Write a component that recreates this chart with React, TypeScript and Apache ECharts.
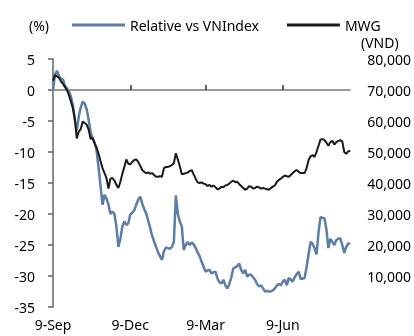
import React, { useEffect, useRef } from "react";
import * as echarts from "echarts";

// x-axis: 151 daily-ish sample points; labelled positions
const tickLabels = ["9-Sep", "9-Dec", "9-Mar", "9-Jun"];
const tickIndex = [0, 39, 77, 116];

// Relative vs VNIndex (%)
const relative = [
  0, 2.5, 3.1, 2.3, 1.8, 1.7, 0.7, 0.3, -0.2, -1.0,
  -2.4, -4.8, -6.5, -4.3, -2.8, -1.9, -2.2, -3.1, -4.8, -6.8,
  -7.8, -8.5, -9.8, -12.5, -15.5, -18.5, -16.9, -17.5, -18.5, -20.0,
  -19.6, -20.0, -22.0, -25.3, -24.0, -22.0, -21.2, -21.8, -21.5, -20.1,
  -19.8, -19.4, -18.5, -17.7, -17.2, -18.3, -19.2, -19.9, -21.0, -22.2,
  -23.5, -24.4, -25.3, -26.2, -26.8, -27.4, -26.0, -25.4, -25.5, -25.6,
  -25.3, -24.5, -17.0, -20.0, -21.2, -22.0, -25.8, -25.0, -24.5, -25.0,
  -24.6, -24.9, -25.5, -26.2, -26.8, -27.7, -28.5, -29.3, -29.1, -29.0,
  -29.6, -29.4, -29.3, -30.4, -31.0, -31.2, -30.6, -31.5, -32.0, -31.3,
  -30.2, -28.8, -28.6, -28.4, -28.0, -29.0, -29.6, -29.0, -30.1, -29.8,
  -29.8, -30.2, -30.6, -31.3, -31.7, -31.5, -32.0, -32.5, -32.4, -32.5,
  -32.5, -32.3, -32.0, -31.5, -31.3, -31.5, -30.9, -30.6, -31.5, -30.3,
  -30.6, -30.9, -30.2, -29.7, -29.3, -30.5, -30.4, -30.3, -28.5, -26.5,
  -24.5, -24.8, -25.5, -26.5, -23.0, -20.5, -20.6, -20.7, -22.5, -25.5,
  -24.0, -24.5, -25.0, -24.2, -24.0, -23.9, -25.0, -26.3, -25.3, -24.8,
  -24.7,
];

// MWG share price (VND)
const mwg = [
  73000, 74800, 74400, 74000, 72800, 72000, 71000, 70000, 68400, 66400,
  64200, 60800, 54400, 56600, 57400, 59800, 59400, 58800, 57200, 54200,
  54600, 52800, 51400, 49400, 47000, 44800, 43200, 41600, 38200, 41400,
  41600, 40800, 39400, 38400, 40400, 43000, 45200, 47600, 46200, 46000,
  46800, 47400, 47600, 46800, 45600, 44200, 43600, 43200, 43400, 43000,
  43200, 42600, 42000, 42000, 42200, 42000, 44800, 45200, 45200, 45400,
  45800, 46400, 49600, 47600, 45400, 42800, 43000, 43200, 43400, 43800,
  44200, 42800, 41400, 40200, 40000, 40200, 39800, 39600, 39000, 39400,
  38800, 39200, 38600, 38000, 38200, 38800, 38600, 39200, 39400, 39800,
  40400, 40800, 40200, 40400, 39600, 39000, 38400, 37800, 38200, 39000,
  38800, 38200, 38400, 38800, 38600, 38200, 38400, 38200, 38000, 37800,
  38400, 38800, 39200, 40400, 41000, 41400, 42000, 42400, 42200, 42000,
  42600, 43200, 43800, 44200, 43600, 43200, 43200, 43200, 44800, 47400,
  48600, 49000, 48400, 50000, 52000, 54000, 54200, 53800, 53000, 52000,
  53200, 53600, 52400, 53200, 53600, 53800, 53400, 50000, 49400, 50200,
  50400,
];

const categories = relative.map((_, i) => String(i));
const labelFor = (i: number) => {
  const k = tickIndex.indexOf(i);
  return k >= 0 ? tickLabels[k] : "";
};

const FONT = "Noto Sans";

export default function App() {
  const ref = useRef<HTMLDivElement>(null);
  useEffect(() => {
    if (!ref.current) return;
    const chart = echarts.init(ref.current, undefined, { renderer: "svg" });
    chart.setOption({
      animation: false,
      textStyle: { fontFamily: FONT, color: "#000" },
      grid: { left: 53, right: 61, top: 59, height: 248 },
      legend: {
        left: 67,
        top: 13,
        itemWidth: 53,
        itemHeight: 3,
        itemGap: 28,
        icon: "rect",
        textStyle: { fontFamily: FONT, fontSize: 14, color: "#000" },
        data: ["Relative vs VNIndex", "MWG"],
      },
      graphic: [
        {
          type: "text",
          left: 29,
          top: 18,
          style: { text: "(%)", font: `14px "${FONT}"`, fill: "#000" },
        },
        {
          type: "text",
          left: 361,
          top: 35,
          style: { text: "(VND)", font: `14px "${FONT}"`, fill: "#000" },
        },
      ],
      xAxis: [
        {
          type: "category",
          data: categories,
          boundaryGap: false,
          axisLine: { onZero: true, lineStyle: { color: "#7a7a7a", width: 1.5 } },
          axisTick: {
            show: true,
            inside: true,
            length: 5,
            interval: (i: number) => tickIndex.indexOf(i) > 0,
            lineStyle: { color: "#333", width: 1.5 },
          },
          axisLabel: { show: false },
          splitLine: { show: false },
        },
        {
          type: "category",
          data: categories,
          boundaryGap: false,
          position: "bottom",
          axisLine: { show: false, onZero: false },
          axisTick: { show: false },
          axisLabel: {
            interval: 0,
            margin: 10,
            fontSize: 14,
            fontFamily: FONT,
            color: "#000",
            formatter: (_v: string, i: number) => labelFor(i),
          },
          splitLine: { show: false },
        },
      ],
      yAxis: [
        {
          type: "value",
          min: -35,
          max: 5,
          interval: 5,
          axisLine: { show: true, lineStyle: { color: "#666", width: 1.5 } },
          axisTick: { show: true, length: 5, lineStyle: { color: "#666", width: 1.5 } },
          axisLabel: { fontSize: 14, fontFamily: FONT, color: "#000", margin: 18 },
          splitLine: { show: false },
        },
        {
          type: "value",
          min: 0,
          max: 80000,
          interval: 10000,
          position: "right",
          axisLine: { show: false },
          axisTick: { show: false },
          axisLabel: {
            fontSize: 14,
            fontFamily: FONT,
            color: "#000",
            margin: 17,
            formatter: (v: number) => (v === 0 ? "" : v.toLocaleString("en-US")),
          },
          splitLine: { show: false },
        },
      ],
      series: [
        {
          name: "Relative vs VNIndex",
          type: "line",
          data: relative,
          xAxisIndex: 0,
          yAxisIndex: 0,
          symbol: "none",
          color: "#5B7DA8",
          lineStyle: { color: "#5B7DA8", width: 2.5 },
        },
        {
          name: "MWG",
          type: "line",
          data: mwg,
          xAxisIndex: 0,
          yAxisIndex: 1,
          symbol: "none",
          color: "#1a1a1a",
          lineStyle: { color: "#1a1a1a", width: 2 },
        },
      ],
    });
    return () => chart.dispose();
  }, []);
  return (
    <div
      ref={ref}
      style={{ position: "fixed", left: 0, top: 0, width: 414, height: 336 }}
    />
  );
}
